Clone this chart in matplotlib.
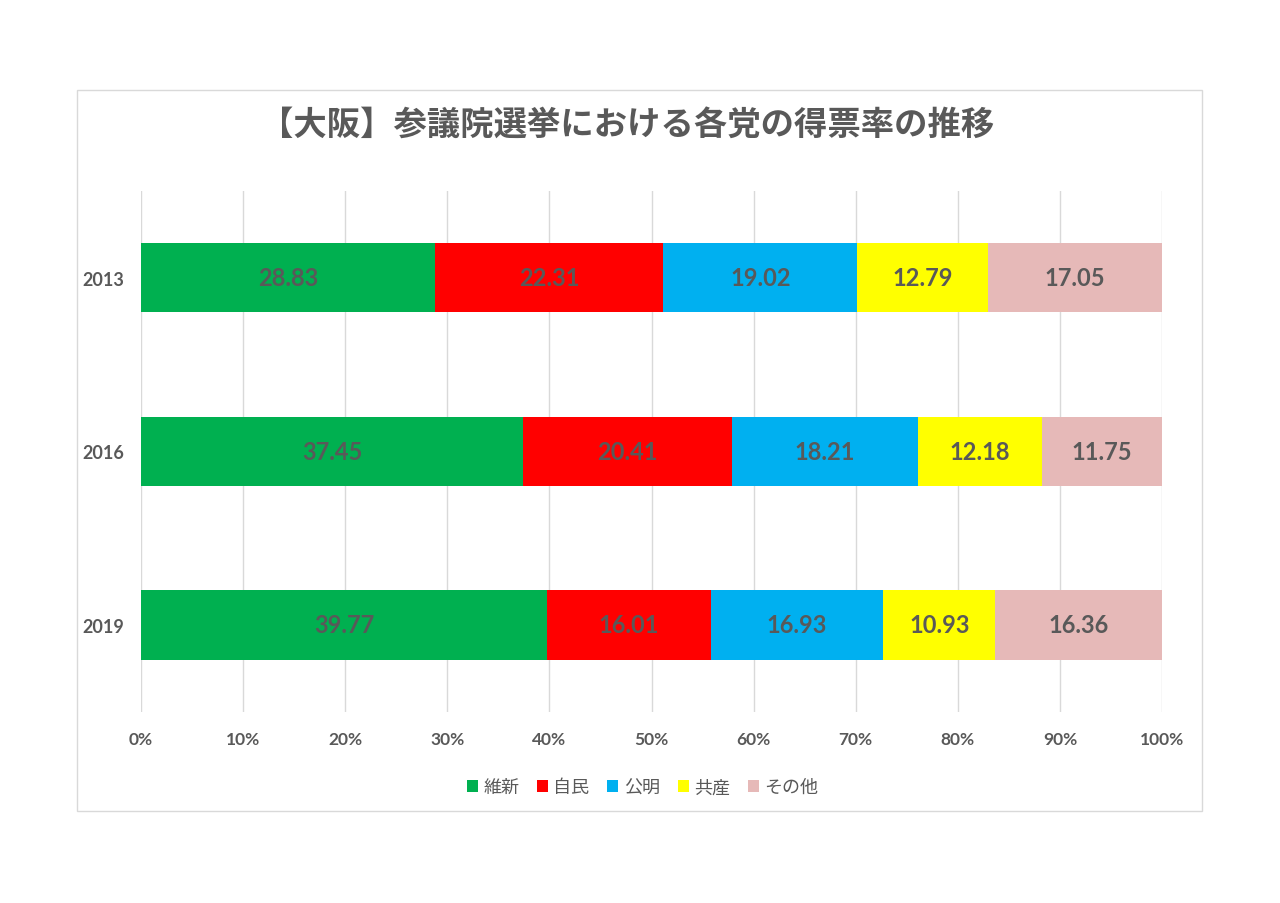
import matplotlib
matplotlib.use("Agg")
import matplotlib.pyplot as plt
import matplotlib.ticker as mticker
from matplotlib.patches import Rectangle
import numpy as np

plt.rcParams['font.family'] = ['Lato', 'Noto Sans CJK JP', 'DejaVu Sans']

# ── data ────────────────────────────────────────────────
years = ["2013", "2016", "2019"]
parties = ["維新", "自民", "公明", "共産", "その他"]
ishin   = [28.83, 37.45, 39.77]
jimin   = [22.31, 20.41, 16.01]
komei   = [19.02, 18.21, 16.93]
kyosan  = [12.79, 12.18, 10.93]
other   = [17.05, 11.75, 16.36]
xticks = [0, 10, 20, 30, 40, 50, 60, 70, 80, 90, 100]
colors = ["#00B050", "#FF0000", "#00B0F0", "#FFFF00", "#E6B9B8"]

TEXT = "#595959"
GRID = "#D9D9D9"
CJK = ["Noto Sans CJK JP", "DejaVu Sans"]

fig = plt.figure(figsize=(12.8, 9.04), dpi=100)
fig.patch.set_facecolor("white")

# outer chart frame
fig.add_artist(Rectangle((0.0602, 0.1018), 0.8789, 0.7976, transform=fig.transFigure,
                         fill=False, edgecolor=GRID, linewidth=1.0))

ax = fig.add_axes([0.1102, 0.2115, 0.7977, 0.5763])

series = [ishin, jimin, komei, kyosan, other]
y = np.arange(len(years))
left = np.zeros(len(years))
for name, vals, col in zip(parties, series, colors):
    vals = np.array(vals)
    ax.barh(y, vals / 100.0, left=left / 100.0, height=0.4, color=col,
            label=name, zorder=3)
    for yi, l, v in zip(y, left, vals):
        ax.text((l + v / 2) / 100.0, yi, f"{v:.2f}", ha="center", va="center",
                fontsize=17, fontweight="bold", color=TEXT, zorder=4)
    left = left + vals

ax.set_xlim(0, 1)
ax.set_ylim(2.5, -0.5)
ax.set_yticks(y)
ax.set_yticklabels(years, fontsize=13, fontweight="bold", color=TEXT)
ax.set_xticks([t / 100.0 for t in xticks])
ax.set_xticklabels([f"{t}%" for t in xticks], fontsize=12.5, fontweight="bold", color=TEXT)
ax.grid(axis="x", color=GRID, linewidth=1.0, zorder=0)
for s in ax.spines.values():
    s.set_visible(False)
ax.tick_params(axis="both", length=0)
ax.tick_params(axis="x", pad=14)
ax.tick_params(axis="y", pad=12)

fig.text(0.490, 0.862, "【大阪】参議院選挙における各党の得票率の推移", ha="center", va="center",
         fontsize=24, fontweight="bold", color=TEXT, family=CJK)

leg = fig.legend(loc="center", bbox_to_anchor=(0.502, 0.128), ncol=5, frameon=False,
                 handlelength=0.6, handleheight=0.6, handletextpad=0.3, columnspacing=1.0,
                 prop={"family": CJK, "size": 13})
for t in leg.get_texts():
    t.set_color(TEXT)

fig.savefig("out.png", dpi=100, facecolor="white")
